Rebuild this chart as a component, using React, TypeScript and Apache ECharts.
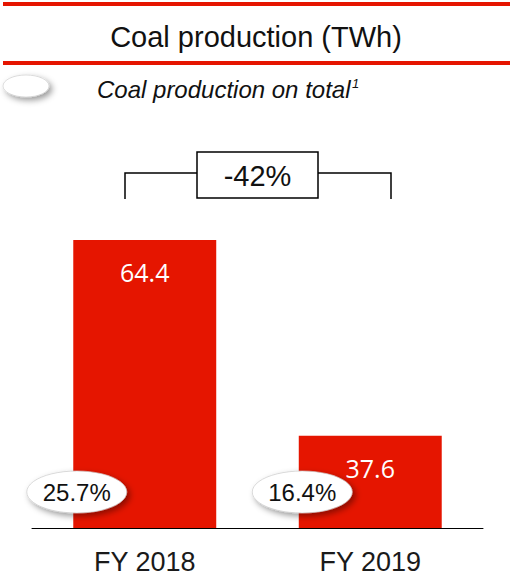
import React, { useEffect, useRef } from "react";
import * as echarts from "echarts";

const categories = ["FY 2018", "FY 2019"];
const production = [64.4, 37.6];
const shareOnTotal = ["25.7%", "16.4%"];
const changeLabel = "-42%";
const titleText = "Coal production (TWh)";
const legendText = "Coal production on total";

const RED = "#E51500";
const FONT = "'Liberation Sans', Arial, sans-serif";

export default function App() {
  const ref = useRef<HTMLDivElement>(null);
  useEffect(() => {
    if (!ref.current) return;
    const chart = echarts.init(ref.current, null, { renderer: "svg" });
    const shadow = {
      shadowBlur: 6,
      shadowColor: "rgba(0,0,0,0.4)",
      shadowOffsetX: 3,
      shadowOffsetY: 3,
    };
    chart.setOption({
      animation: false,
      backgroundColor: "#ffffff",
      grid: { left: 32, right: 27, top: 235.5, bottom: 51 },
      xAxis: {
        type: "category",
        data: categories,
        axisLine: { show: true, lineStyle: { color: "#000", width: 1 } },
        axisTick: { show: false },
        axisLabel: {
          color: "#1a1a1a",
          fontFamily: FONT,
          fontSize: 27,
          lineHeight: 27,
          margin: 20,
        },
      },
      yAxis: {
        type: "value",
        min: 25,
        max: 65,
        show: false,
        splitLine: { show: false },
      },
      series: [
        {
          type: "bar",
          data: production,
          barWidth: "63.4%",
          itemStyle: { color: RED },
          label: {
            show: true,
            position: "insideTop",
            distance: 20,
            color: "#fff",
            fontFamily: "'Open Sans', sans-serif",
            fontSize: 25,
            lineHeight: 25,
            formatter: (p: any) => p.value.toFixed(1),
          },
        },
        {
          type: "scatter",
          clip: false,
          data: categories.map((c) => [c, 25]),
          symbol: "circle",
          symbolSize: [100, 42],
          symbolOffset: [-68, -36],
          itemStyle: {
            color: "#fff",
            opacity: 1,
            borderColor: "#c8c8c8",
            borderWidth: 0.6,
            ...shadow,
          },
          label: {
            show: true,
            position: "inside",
            color: "#111",
            fontFamily: FONT,
            fontSize: 24,
            formatter: (p: any) => shareOnTotal[p.dataIndex],
          },
          emphasis: { disabled: true },
          z: 5,
        },
      ],
      graphic: [
        { type: "rect", shape: { x: 3, y: 2, width: 507, height: 4 }, style: { fill: RED } },
        { type: "rect", shape: { x: 3, y: 61, width: 507, height: 4 }, style: { fill: RED } },
        {
          type: "text",
          x: 256,
          y: 37,
          style: {
            text: titleText,
            fill: "#111",
            font: `29px ${FONT}`,
            align: "center",
            verticalAlign: "middle",
          },
        },
        {
          type: "ellipse",
          shape: { cx: 26, cy: 86, rx: 23, ry: 11 },
          style: { fill: "#fff", stroke: "#c8c8c8", lineWidth: 0.6, ...shadow },
        },
        {
          type: "text",
          x: 97,
          y: 89,
          style: {
            text: legendText,
            fill: "#111",
            font: `italic 24px ${FONT}`,
            align: "left",
            verticalAlign: "middle",
          },
        },
        {
          type: "text",
          x: 352,
          y: 83,
          style: {
            text: "1",
            fill: "#111",
            font: `italic 13px ${FONT}`,
            align: "left",
            verticalAlign: "middle",
          },
        },
        {
          type: "polyline",
          shape: { points: [[125, 199], [125, 173], [197, 173]] },
          style: { stroke: "#000", lineWidth: 1.5, fill: null },
        },
        {
          type: "polyline",
          shape: { points: [[318, 173], [391, 173], [391, 199]] },
          style: { stroke: "#000", lineWidth: 1.5, fill: null },
        },
        {
          type: "rect",
          shape: { x: 197, y: 152, width: 121, height: 46 },
          style: { fill: "#fff", stroke: "#000", lineWidth: 1.5 },
        },
        {
          type: "text",
          x: 257.5,
          y: 176,
          style: {
            text: changeLabel,
            fill: "#111",
            font: `29px ${FONT}`,
            align: "center",
            verticalAlign: "middle",
          },
        },
      ],
    });
    return () => chart.dispose();
  }, []);
  return (
    <div
      ref={ref}
      style={{ position: "absolute", left: 0, top: 0, width: 510, height: 579 }}
    />
  );
}
